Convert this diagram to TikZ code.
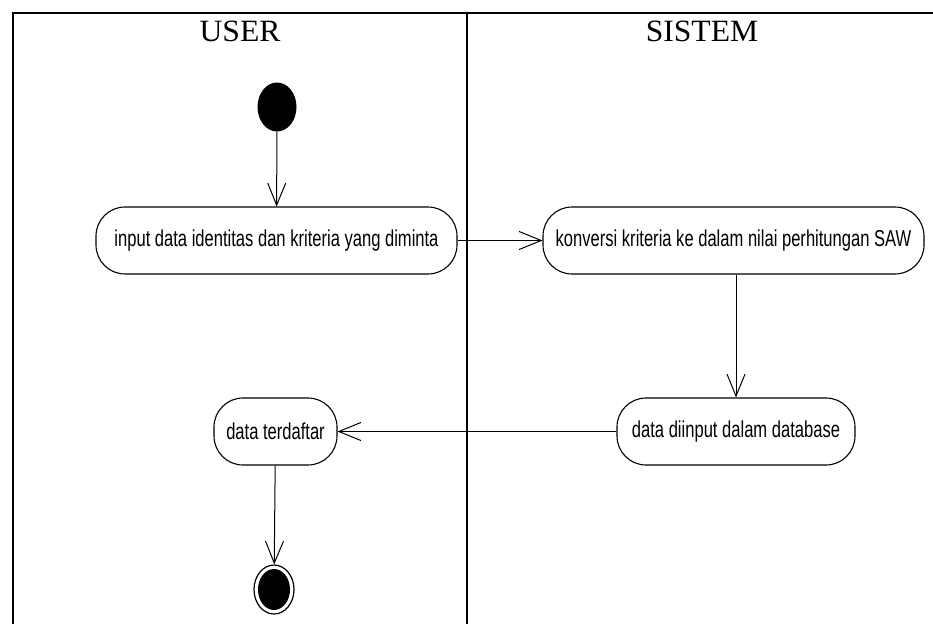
\documentclass[tikz,border=0pt]{standalone}
\usepackage{fontspec}
\usetikzlibrary{arrows.meta,shapes.geometric}
\newfontfamily\titlefont[FakeStretch=1.02]{Liberation Serif}
\newfontfamily\boxfont[FakeStretch=0.72]{Liberation Sans}
\begin{document}
\begin{tikzpicture}[x=1pt,y=-1pt,
  act/.style={draw, line width=1.1pt, rounded corners=29pt, minimum height=67pt, inner sep=0pt, font=\boxfont\fontsize{23}{27}\selectfont},
  flow/.style={line width=1pt, -{Straight Barb[length=22pt,width=18pt,line width=1pt]}},
  lane/.style={line width=2pt},
  title/.style={font=\titlefont\fontsize{31}{36}\selectfont, anchor=base, inner sep=0pt},
  startnode/.style={ellipse, fill=black, minimum width=39pt, minimum height=49pt, inner sep=0pt},
  endouter/.style={ellipse, draw, line width=1.2pt, minimum width=40pt, minimum height=49pt, inner sep=0pt},
  endinner/.style={ellipse, fill=black, minimum width=32pt, minimum height=41pt, inner sep=0pt}]
\useasboundingbox (0,0) rectangle (933,624);
\coordinate (lb) at (13,624);
\coordinate (lt) at (13,12.7);
\coordinate (rt) at (933,12.7);
\coordinate (mt) at (467,12.7);
\coordinate (mb) at (467,624);
\draw[lane] (lb) -- (lt) -- (rt);
\draw[lane] (mt) -- (mb);
\node[title] (tuser) at (240,41) {USER};
\node[title] (tsys) at (702,41) {SISTEM};
\node[startnode] (start) at (277,107) {};
\node[act, minimum width=361pt] (input) at (276.5,240.5) {input data identitas dan kriteria yang diminta};
\node[act, minimum width=381pt] (konv) at (733.5,240.5) {konversi kriteria ke dalam nilai perhitungan SAW};
\node[act, minimum width=238pt] (db) at (736,431.5) {data diinput dalam database};
\node[act, minimum width=123pt] (daftar) at (275.5,431.5) {data terdaftar};
\node[endouter] (end) at (274,589.5) {};
\node[endinner] (endin) at (274,589.5) {};
\draw[flow] (start) -- (input);
\draw[flow] (input) -- (konv);
\draw[flow] (konv.south -| db.north) -- (db.north);
\draw[flow] (db) -- (daftar);
\draw[flow] (daftar) -- (end);
\end{tikzpicture}
\end{document}
